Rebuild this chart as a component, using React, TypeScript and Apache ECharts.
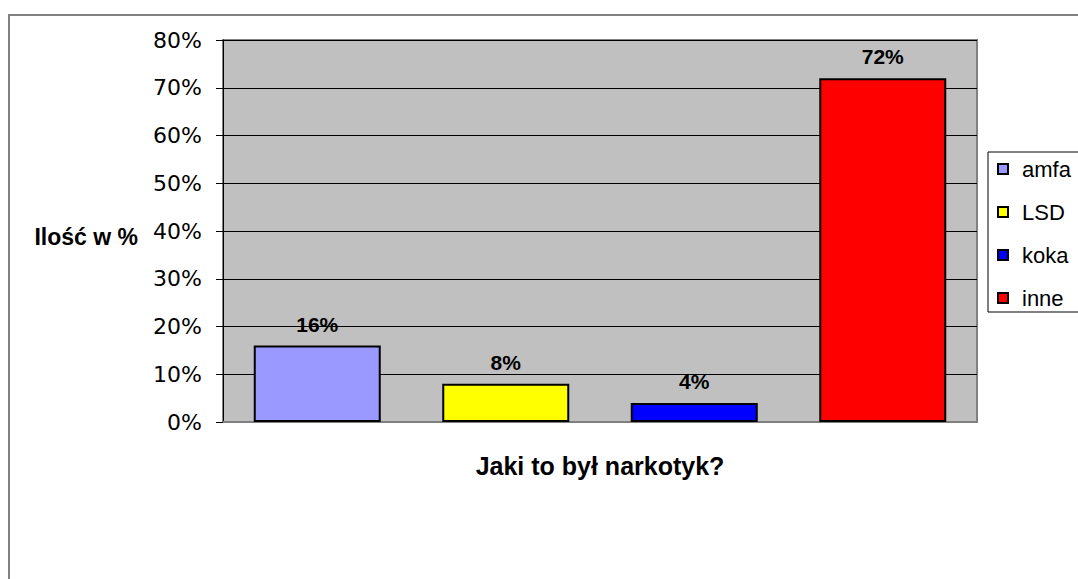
import React, { useEffect, useRef } from "react";
import * as echarts from "echarts";

const categories = ["amfa", "LSD", "koka", "inne"];
const values = [16, 8, 4, 72];
const colors = ["#9999FF", "#FFFF00", "#0000FF", "#FF0000"];
const yTicks = [0, 10, 20, 30, 40, 50, 60, 70, 80];
const yAxisName = "Ilość w %";
const xAxisName = "Jaki to był narkotyk?";

const FONT = 'Arial, "Liberation Sans", sans-serif';
const TICK_FONT = '"DejaVu Sans", Arial, sans-serif';

export default function App() {
  const ref = useRef<HTMLDivElement>(null);
  useEffect(() => {
    document.body.style.margin = "0";
    const chart = echarts.init(ref.current!, null, { renderer: "svg" });
    const series = categories.map((name, i) => ({
      name,
      type: "bar",
      barWidth: 127,
      barGap: "-100%",
      data: categories.map((_, j) => (j === i ? values[i] : "-")),
      itemStyle: { color: colors[i], borderColor: "#000", borderWidth: 2 },
      label: {
        show: true,
        position: "top",
        distance: 11,
        formatter: "{c}%",
        fontFamily: FONT,
        fontWeight: "bold",
        fontSize: 21,
        color: "#000",
      },
    }));
    chart.setOption({
      animation: false,
      textStyle: { fontFamily: FONT },
      graphic: [
        {
          type: "rect",
          shape: { x: 9, y: 15, width: 1200, height: 700 },
          style: { fill: "none", stroke: "#808080", lineWidth: 2 },
          z: -10,
        },
      ],
      grid: {
        left: 223,
        top: 40,
        right: 101,
        bottom: 157,
        outerBoundsMode: "none",
        show: true,
        backgroundColor: "#C0C0C0",
        borderColor: "#808080",
        borderWidth: 2,
      },
      legend: {
        orient: "vertical",
        left: 988,
        top: 152,
        backgroundColor: "#fff",
        borderColor: "#000",
        borderWidth: 1,
        borderRadius: 0,
        padding: [6, 40, 3, 9],
        itemWidth: 10,
        itemHeight: 10,
        itemGap: 21,
        icon: "rect",
        itemStyle: { borderColor: "#000", borderWidth: 2 },
        textStyle: { fontFamily: FONT, fontSize: 22, color: "#000", padding: [0, 0, 0, 9] },
        data: categories,
      },
      xAxis: {
        type: "category",
        data: categories,
        axisLabel: { show: false },
        axisTick: { show: false },
        axisLine: { show: true, lineStyle: { color: "#808080", width: 2 } },
        name: xAxisName,
        nameLocation: "middle",
        nameGap: 31,
        nameTextStyle: { fontFamily: FONT, fontWeight: "bold", fontSize: 25, color: "#000" },
      },
      yAxis: {
        type: "value",
        min: yTicks[0],
        max: yTicks[yTicks.length - 1],
        interval: 10,
        axisLine: { show: true, lineStyle: { color: "#000", width: 1 } },
        axisTick: { show: true, length: 7, lineStyle: { color: "#000" } },
        axisLabel: {
          formatter: "{value}%",
          fontFamily: TICK_FONT,
          fontSize: 22,
          color: "#000",
          margin: 21,
        },
        splitLine: { show: true, lineStyle: { color: "#000", width: 1 } },
        name: yAxisName,
        nameLocation: "middle",
        nameRotate: 0,
        nameGap: 85,
        nameTextStyle: {
          fontFamily: FONT,
          fontWeight: "bold",
          fontSize: 23,
          color: "#000",
          verticalAlign: "top",
          padding: [-6, 0, 0, 0],
        },
      },
      series,
    });
    return () => chart.dispose();
  }, []);
  return <div ref={ref} style={{ width: 1078, height: 579, background: "#fff" }} />;
}
